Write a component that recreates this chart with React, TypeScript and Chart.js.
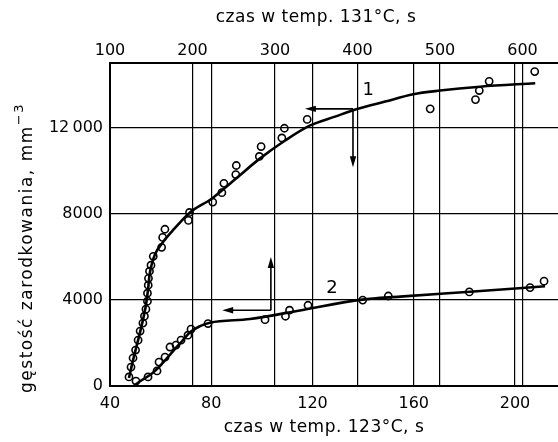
import React, { useEffect, useRef } from "react";
import { Chart, registerables } from "chart.js";
Chart.register(...registerables);

// axis ticks
const bottomTicks = [40, 80, 120, 160, 200];
const topTicks = [100, 200, 300, 400, 500, 600];
const yTicks = [0, 4000, 8000, 12000];
const yTickLabels = ["0", "4000", "8000", "12\u2009000"];

// curve 1 (123 °C, bottom axis) – measured points
const c1X = [47.5, 48.3, 49.1, 50.1, 51.1, 51.9, 53.0, 53.6, 54.2, 54.8, 54.8, 55.1, 55.2, 55.6, 56.2, 57.1, 60.4, 60.8, 61.7, 71.0, 71.4, 80.6, 84.2, 85.0, 89.7, 89.9, 99.0, 99.7, 107.9, 108.9, 117.9, 166.5, 184.4, 185.9, 189.8, 207.8];
const c1Y = [420, 880, 1300, 1670, 2130, 2550, 2920, 3240, 3570, 3940, 4310, 4680, 5000, 5330, 5610, 6020, 6440, 6900, 7280, 7690, 8060, 8540, 8980, 9410, 9820, 10240, 10660, 11120, 11520, 11970, 12380, 12870, 13300, 13720, 14150, 14600];
// curve 1 fitted line
const f1X = [47.5, 49.1, 51.1, 53.0, 54.2, 55.0, 55.6, 56.4, 57.8, 60.6, 64.5, 71.6, 80.3, 89.8, 99.3, 109.2, 119.1, 128.9, 137.6, 148.7, 159.8, 170.4, 186.2, 208.0];
const f1Y = [370, 1200, 2130, 3060, 3750, 4450, 5140, 5610, 6120, 6630, 7180, 8060, 8710, 9640, 10570, 11400, 12100, 12510, 12860, 13210, 13550, 13720, 13900, 14060];

// curve 2 (131 °C, top axis) – measured points
const c2X = [131.5, 146.1, 157.0, 159.4, 166.7, 172.7, 180.0, 186.1, 194.5, 198.2, 218.8, 287.9, 312.7, 317.6, 340.0, 406.3, 437.3, 535.5, 609.1, 626.1];
const c2Y = [230, 420, 700, 1110, 1340, 1810, 1900, 2130, 2360, 2640, 2900, 3080, 3240, 3520, 3750, 3990, 4180, 4370, 4570, 4870];
// curve 2 fitted line
const f2X = [130.3, 138.8, 148.5, 158.2, 169.1, 178.8, 188.5, 197.0, 209.1, 221.2, 269.7, 330.3, 405.5, 451.5, 536.4, 627.3];
const f2Y = [50, 280, 510, 830, 1300, 1720, 2130, 2500, 2780, 2940, 3110, 3510, 4010, 4150, 4380, 4630];

// arrows / labels in data coordinates
const arrow1 = { axis: "x", cx: 136, cy: 12870, tipX: 117, tipY: 10160, label: "1", lx: 142, ly: 13720 };
const arrow2 = { axis: "x2", cx: 295, cy: 3520, tipX: 236, tipY: 5990, label: "2", lx: 369, ly: 4530 };

const FONT = "'DejaVu Sans', sans-serif";

const toPts = (xs: number[], ys: number[]) => xs.map((x, i) => ({ x, y: ys[i] }));

function drawArrow(ctx: CanvasRenderingContext2D, x0: number, y0: number, x1: number, y1: number) {
  const ang = Math.atan2(y1 - y0, x1 - x0);
  const len = 11, hw = 3.2;
  ctx.beginPath();
  ctx.moveTo(x0, y0);
  ctx.lineTo(x1 - Math.cos(ang) * len * 0.6, y1 - Math.sin(ang) * len * 0.6);
  ctx.stroke();
  ctx.beginPath();
  ctx.moveTo(x1, y1);
  ctx.lineTo(x1 - Math.cos(ang) * len - Math.sin(ang) * hw, y1 - Math.sin(ang) * len + Math.cos(ang) * hw);
  ctx.lineTo(x1 - Math.cos(ang) * len + Math.sin(ang) * hw, y1 - Math.sin(ang) * len - Math.cos(ang) * hw);
  ctx.closePath();
  ctx.fill();
}

const annotPlugin = {
  id: "annot",
  afterDatasetsDraw(chart: any) {
    const ctx: CanvasRenderingContext2D = chart.ctx;
    const ys = chart.scales.y;
    ctx.save();
    ctx.strokeStyle = "#000";
    ctx.fillStyle = "#000";
    ctx.lineWidth = 1.6;
    for (const a of [arrow1, arrow2]) {
      const xs = chart.scales[a.axis];
      const cx = xs.getPixelForValue(a.cx);
      const cy = ys.getPixelForValue(a.cy);
      const tx = xs.getPixelForValue(a.tipX);
      const ty = ys.getPixelForValue(a.tipY);
      drawArrow(ctx, cx, cy, tx, cy);
      drawArrow(ctx, cx, cy, cx, ty);
      ctx.font = `18px ${FONT}`;
      ctx.textAlign = "center";
      ctx.textBaseline = "middle";
      ctx.fillText(a.label, xs.getPixelForValue(a.lx), ys.getPixelForValue(a.ly));
    }
    ctx.restore();
  },
  afterDraw(chart: any) {
    const ctx: any = chart.ctx;
    ctx.save();
    ctx.fillStyle = "#000";
    ctx.font = `17px ${FONT}`;
    ctx.letterSpacing = "0.5px";
    ctx.textAlign = "center";
    ctx.textBaseline = "middle";
    ctx.fillText("czas w temp. 131°C, s", 316, 18);
    ctx.fillText("czas w temp. 123°C, s", 324, 428);
    // y title
    ctx.translate(28, 248);
    ctx.rotate(-Math.PI / 2);
    const main = "gęstość zarodkowania, mm";
    const sup = "−3";
    ctx.letterSpacing = "1.5px";
    ctx.font = `17px ${FONT}`;
    const w1 = ctx.measureText(main).width;
    ctx.font = `13px ${FONT}`;
    const w2 = ctx.measureText(sup).width;
    const total = w1 + w2;
    ctx.textAlign = "left";
    ctx.font = `17px ${FONT}`;
    ctx.fillText(main, -total / 2, 0);
    ctx.font = `13px ${FONT}`;
    ctx.fillText(sup, -total / 2 + w1, -8);
    ctx.restore();
  },
};

export default function App() {
  const ref = useRef<HTMLCanvasElement | null>(null);
  useEffect(() => {
    if (!ref.current) return;
    const tickFont = { family: FONT, size: 16 };
    const chart = new Chart(ref.current, {
      type: "scatter",
      data: {
        datasets: [
          {
            data: toPts(c1X, c1Y),
            xAxisID: "x",
            pointRadius: 3.6,
            pointBorderWidth: 1.6,
            pointBorderColor: "#000",
            pointBackgroundColor: "rgba(0,0,0,0)",
          },
          {
            data: toPts(c2X, c2Y),
            xAxisID: "x2",
            pointRadius: 3.6,
            pointBorderWidth: 1.6,
            pointBorderColor: "#000",
            pointBackgroundColor: "rgba(0,0,0,0)",
          },
          {
            data: toPts(f1X, f1Y),
            xAxisID: "x",
            showLine: true,
            borderColor: "#000",
            borderWidth: 2.6,
            pointRadius: 0,
            cubicInterpolationMode: "monotone",
          } as any,
          {
            data: toPts(f2X, f2Y),
            xAxisID: "x2",
            showLine: true,
            borderColor: "#000",
            borderWidth: 2.6,
            pointRadius: 0,
            cubicInterpolationMode: "monotone",
          } as any,
        ],
      },
      options: {
        animation: false,
        responsive: true,
        maintainAspectRatio: false,
        layout: { padding: 0, autoPadding: false },
        plugins: { legend: { display: false }, tooltip: { enabled: false }, title: { display: false } },
        scales: {
          x: {
            type: "linear",
            position: "bottom",
            min: 40,
            max: 217,
            afterBuildTicks: (s: any) => { s.ticks = bottomTicks.map((v) => ({ value: v })); },
            afterFit: (s: any) => { s.height = 56; },
            grid: { color: "#000", lineWidth: 1.2, drawTicks: false },
            border: { color: "#000", width: 2 },
            ticks: { color: "#000", font: tickFont, padding: 8, maxRotation: 0, autoSkip: false },
          },
          x2: {
            type: "linear",
            position: "top",
            min: 100,
            max: 643,
            afterBuildTicks: (s: any) => { s.ticks = topTicks.map((v) => ({ value: v })); },
            afterFit: (s: any) => { s.height = 63; },
            grid: { color: "#000", lineWidth: 1.2, drawTicks: false },
            border: { color: "#000", width: 2 },
            ticks: { color: "#000", font: tickFont, padding: 3, maxRotation: 0, autoSkip: false },
          },
          y: {
            type: "linear",
            min: 0,
            max: 15000,
            afterBuildTicks: (s: any) => { s.ticks = yTicks.map((v) => ({ value: v })); },
            afterFit: (s: any) => { s.width = 110; },
            grid: { color: "#000", lineWidth: 1.2, drawTicks: false },
            border: { color: "#000", width: 2 },
            ticks: {
              color: "#000",
              font: tickFont,
              padding: 7,
              callback: (v: any) => {
                const i = yTicks.indexOf(Number(v));
                return i >= 0 ? yTickLabels[i] : "";
              },
            },
          },
        },
      } as any,
      plugins: [annotPlugin],
    });
    return () => chart.destroy();
  }, []);
  return (
    <div style={{ position: "absolute", left: 0, top: 0, width: 558, height: 442, background: "#fff" }}>
      <canvas ref={ref} />
    </div>
  );
}
